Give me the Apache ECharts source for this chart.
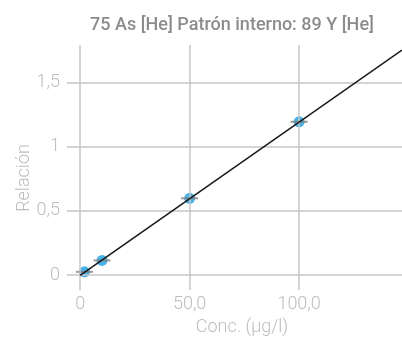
<!DOCTYPE html>
<html><head><meta charset="utf-8">
<script src="https://cdn.jsdelivr.net/npm/echarts@6/dist/echarts.min.js"></script>
<style>html,body{margin:0;padding:0;background:#fff}#c{width:402px;height:337px}</style>
</head><body><div id="c"></div>
<script>
const titleText = '75 As [He] Patrón interno: 89 Y [He]';
const xName = 'Conc. (µg/l)';
const yName = 'Relación';
const concValues = [2, 10, 50, 100];
const ratioValues = [0.026, 0.115, 0.598, 1.193];
const fitX = [0, 147];
const fitY = [-0.002, 1.75];
const xTicks = [0, 50, 100];
const xTickLabels = ['0', '50,0', '100,0'];
const yTicks = [0, 0.5, 1, 1.5];
const yTickLabels = ['0', '0,5', '1', '1,5'];

const pts = concValues.map((x, i) => [x, ratioValues[i]]);
const fit = fitX.map((x, i) => [x, fitY[i]]);
const gridColor = '#c6c6c6';
const labelColor = '#bdbdbd';
const font = 'Roboto';

const chart = echarts.init(document.getElementById('c'));
chart.setOption({
  animation: false,
  title: {text: titleText, left: 227, top: 11, textAlign: 'center',
    textStyle: {fontFamily: font, fontSize: 18, fontWeight: 500, color: '#8c8c8c'}},
  grid: {left: 67, right: 0, top: 45, bottom: 47},
  xAxis: {type: 'value', min: -6, max: 147,
    axisLine: {show: false}, axisTick: {show: false}, splitLine: {show: false},
    axisLabel: {customValues: xTicks, formatter: v => xTickLabels[xTicks.indexOf(v)] ?? '',
      color: labelColor, fontFamily: font, fontSize: 18, fontWeight: 300, margin: 5}},
  yAxis: {type: 'value', min: -0.115, max: 1.79,
    axisLine: {show: false}, axisTick: {show: false}, splitLine: {show: false},
    axisLabel: {customValues: yTicks, formatter: v => yTickLabels[yTicks.indexOf(v)] ?? '',
      color: labelColor, fontFamily: font, fontSize: 18, fontWeight: 300, margin: 7}},
  graphic: [
    {type: 'text', x: 242, y: 327, style: {text: xName, fill: labelColor, font: '300 18px Roboto', align: 'center', verticalAlign: 'middle'}},
    {type: 'text', x: 24, y: 178, rotation: Math.PI / 2, style: {text: yName, fill: labelColor, font: '300 18px Roboto', align: 'center', verticalAlign: 'middle'}}
  ],
  series: [
    {type: 'scatter', data: pts, symbol: 'circle', symbolSize: 11, itemStyle: {color: '#1a9fe0'}, z: 3,
      markLine: {silent: true, symbol: 'none', label: {show: false},
        lineStyle: {color: gridColor, width: 1.5, type: 'solid'},
        data: xTicks.map(v => ({xAxis: v})).concat(yTicks.map(v => ({yAxis: v})))}},
    {type: 'scatter', data: pts, symbol: 'rect', symbolSize: [17, 2], itemStyle: {color: '#808080'}, z: 4},
    {type: 'line', data: fit, showSymbol: false, lineStyle: {color: '#1a1a1a', width: 1.6}, z: 5}
  ]
});
</script></body></html>
